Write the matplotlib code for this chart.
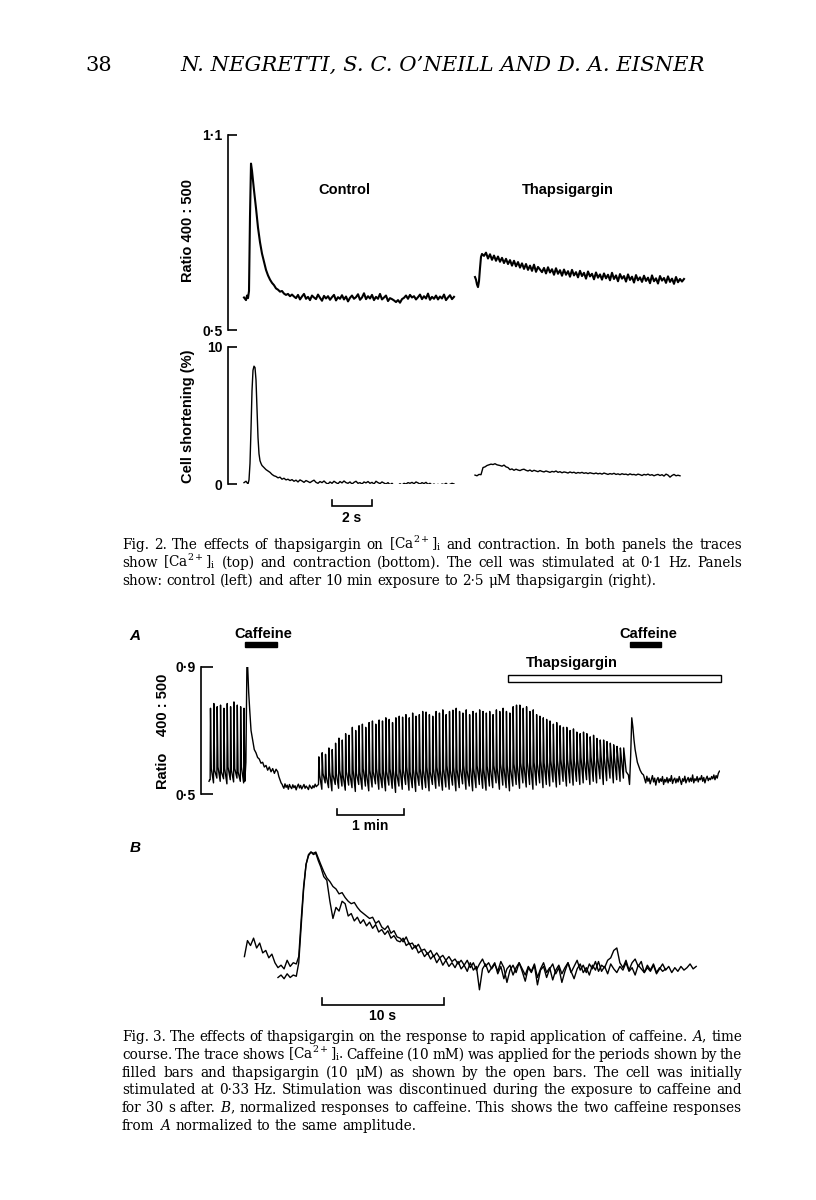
import numpy as np
import matplotlib
matplotlib.use("Agg")
import matplotlib.pyplot as plt
from matplotlib.patches import Rectangle

# ---------------- data ----------------
# Fig. 2, top: ratio 400:500, control transient (time in s)
ctrl_ratio_t = [0.0, 0.1, 0.15, 0.2, 0.25, 0.3, 0.35, 0.4, 0.5, 0.6, 0.7, 0.8, 0.9, 1.0,
                1.1, 1.2, 1.3, 1.4, 1.5, 1.6, 1.7, 1.8, 1.9, 2.0, 2.1, 2.2, 2.3, 2.4, 2.5]
ctrl_ratio_y = [0.600, 0.592, 0.606, 0.598, 0.62, 0.85, 1.012, 0.99, 0.93, 0.875, 0.815,
                0.77, 0.735, 0.71, 0.685, 0.668, 0.655, 0.645, 0.638, 0.628, 0.624, 0.618,
                0.62, 0.612, 0.608, 0.611, 0.604, 0.609, 0.603]
# resting part, sampled every 0.1 s from 2.6 s
ctrl_ratio_rest = [
    0.598, 0.608, 0.594, 0.603, 0.611, 0.596, 0.602, 0.592, 0.606, 0.600,
    0.595, 0.609, 0.599, 0.590, 0.605, 0.597, 0.604, 0.593, 0.601, 0.608,
    0.591, 0.601, 0.596, 0.607, 0.594, 0.603, 0.588, 0.599, 0.606, 0.596,
    0.601, 0.610, 0.593, 0.600, 0.613, 0.595, 0.604, 0.597, 0.608, 0.592,
    0.602, 0.596, 0.611, 0.594, 0.600, 0.606, 0.589, 0.598, 0.595, 0.591,
    0.586, 0.592, 0.584, 0.595, 0.599, 0.606, 0.596, 0.608, 0.600, 0.604,
    0.594, 0.601, 0.609, 0.595, 0.604, 0.597, 0.612, 0.593, 0.602, 0.596,
    0.606, 0.594, 0.603, 0.597, 0.609, 0.592, 0.600, 0.607, 0.595, 0.602]

# thapsigargin transient
thap_ratio_t = [11.55, 11.6, 11.65, 11.7, 11.75, 11.8, 11.85, 11.9]
thap_ratio_y = [0.663, 0.655, 0.64, 0.632, 0.65, 0.69, 0.725, 0.734]
# sampled every 0.1 s from 12.0 s
thap_ratio_rest = [
    0.728, 0.738, 0.720, 0.733, 0.716, 0.729, 0.713, 0.726, 0.710, 0.722,
    0.706, 0.719, 0.703, 0.715, 0.698, 0.713, 0.696, 0.709, 0.692, 0.705,
    0.688, 0.703, 0.685, 0.698, 0.682, 0.701, 0.679, 0.694, 0.686, 0.678,
    0.691, 0.674, 0.693, 0.677, 0.687, 0.670, 0.690, 0.673, 0.684, 0.667,
    0.686, 0.670, 0.681, 0.664, 0.685, 0.668, 0.678, 0.662, 0.682, 0.666,
    0.676, 0.658, 0.680, 0.665, 0.673, 0.656, 0.677, 0.661, 0.671, 0.655,
    0.674, 0.659, 0.670, 0.653, 0.676, 0.657, 0.668, 0.650, 0.672, 0.658,
    0.666, 0.649, 0.671, 0.654, 0.664, 0.646, 0.669, 0.653, 0.662, 0.648,
    0.667, 0.651, 0.661, 0.644, 0.668, 0.650, 0.659, 0.643, 0.666, 0.652,
    0.660, 0.645, 0.665, 0.648, 0.658, 0.642, 0.663, 0.647, 0.657, 0.649,
    0.657]

# Fig. 2, bottom: cell shortening (%)
ctrl_short_t = [0.0, 0.1, 0.2, 0.25, 0.3, 0.35, 0.4, 0.45, 0.5, 0.55, 0.6, 0.65, 0.7,
                0.75, 0.8, 0.85, 0.9, 1.0, 1.1, 1.2, 1.3, 1.4, 1.5, 1.6, 1.7, 1.8, 1.9,
                2.0, 2.1, 2.2]
ctrl_short_y = [0.1, 0.2, 0.0, 0.3, 1.5, 4.0, 6.8, 8.3, 8.6, 8.5, 7.6, 5.5, 3.4, 2.2,
                1.7, 1.5, 1.35, 1.2, 1.05, 0.95, 0.85, 0.7, 0.6, 0.55, 0.45, 0.5, 0.35,
                0.42, 0.3, 0.35]
# every 0.1 s from 2.3 s
ctrl_short_rest = [
    0.25, 0.32, 0.2, 0.28, 0.15, 0.3, 0.22, 0.12, 0.25, 0.18,
    0.1, 0.2, 0.28, 0.12, 0.05, 0.18, 0.1, 0.22, 0.08, 0.0,
    0.15, 0.05, 0.2, 0.1, 0.02, 0.18, 0.08, 0.22, 0.1, 0.05,
    0.15, 0.0, 0.12, 0.2, 0.05, 0.1, 0.0, 0.15, 0.08, 0.18,
    0.05, 0.12, 0.0, 0.2, 0.1, 0.03, 0.15, 0.07, 0.0, 0.1,
    -0.05, 0.05, -0.12, -0.05, -0.1, 0.02, -0.08, 0.05, 0.0, 0.1,
    0.05, 0.12, 0.02, 0.15, 0.08, 0.0, 0.1, 0.03, 0.12, -0.02,
    0.05, -0.08, 0.0, -0.1, -0.02, -0.12, 0.0, -0.05, 0.05, -0.08,
    -0.02, 0.05, 0.0]

thap_short_t = [11.55, 11.65, 11.75, 11.85, 11.95, 12.05, 12.15, 12.25, 12.35, 12.45,
                12.55, 12.65]
thap_short_y = [0.65, 0.6, 0.7, 0.68, 1.2, 1.25, 1.35, 1.4, 1.45, 1.42, 1.48, 1.4]
# every 0.1 s from 12.8 s
thap_short_rest = [
    1.35, 1.3, 1.38, 1.25, 1.2, 1.05, 1.1, 1.0, 1.08, 1.02,
    0.98, 1.05, 1.08, 1.0, 0.95, 1.02, 0.92, 1.0, 0.95, 0.9,
    0.98, 0.92, 0.88, 0.95, 0.9, 0.85, 0.92, 0.88, 0.95, 0.85,
    0.9, 0.82, 0.88, 0.85, 0.8, 0.88, 0.82, 0.86, 0.78, 0.84,
    0.8, 0.85, 0.78, 0.82, 0.76, 0.82, 0.78, 0.75, 0.8, 0.74,
    0.78, 0.72, 0.8, 0.75, 0.7, 0.76, 0.72, 0.78, 0.7, 0.74,
    0.68, 0.75, 0.7, 0.72, 0.66, 0.74, 0.68, 0.7, 0.65, 0.72,
    0.68, 0.62, 0.7, 0.66, 0.72, 0.64, 0.68, 0.6, 0.66, 0.7,
    0.62, 0.68, 0.58, 0.72, 0.65, 0.5, 0.62, 0.7, 0.6, 0.64,
    0.6]

# Fig. 3A: time course (s), stimulated at 0.33 Hz
beat_period = 3.0
group1_start = 1.0
group1_peaks = [0.77, 0.785, 0.775, 0.78, 0.77, 0.785, 0.775, 0.79, 0.78, 0.775, 0.77]
group1_troughs = [0.545, 0.535, 0.55, 0.54, 0.548, 0.532, 0.545, 0.538, 0.55, 0.54, 0.535]
group1_shoulders = [0.58, 0.575, 0.585, 0.57, 0.58, 0.585, 0.575, 0.58, 0.57, 0.585, 0.575]

caff1_t = [32.0, 33.0, 34.0, 34.6, 35.5, 36.5, 37.6, 39.0, 40.5, 42.0, 43.5, 45.0, 46.5,
           48.0, 49.5, 51.0, 52.5, 54.0, 55.5, 57.0, 58.5, 60.0, 61.5, 62.5, 63.5, 64.5,
           65.5]
caff1_y = [0.54, 0.6, 0.94, 0.90, 0.82, 0.76, 0.70, 0.67, 0.64, 0.63, 0.615, 0.61, 0.597,
           0.6, 0.585, 0.59, 0.575, 0.585, 0.57, 0.58, 0.565, 0.578, 0.57, 0.555, 0.545,
           0.535, 0.53]
# every 1 s from 66 s (no stimulation)
rest1_y = [0.525, 0.518, 0.532, 0.521, 0.528, 0.515, 0.53, 0.522, 0.517, 0.529, 0.52,
           0.526, 0.513, 0.524, 0.531, 0.519, 0.527, 0.516, 0.523, 0.53, 0.518, 0.525,
           0.52, 0.514, 0.528, 0.522, 0.517, 0.526, 0.52, 0.531, 0.523, 0.527]

group2_start = 98.0
group2_peaks = [
    0.617, 0.63, 0.625, 0.645, 0.64, 0.66,
    0.676, 0.67, 0.69, 0.685, 0.71,
    0.70, 0.715, 0.72, 0.71, 0.725, 0.73, 0.72, 0.733,
    0.73, 0.74, 0.735, 0.725, 0.74, 0.745, 0.742,
    0.75, 0.74, 0.755, 0.745, 0.75, 0.76, 0.758,
    0.75, 0.745, 0.76, 0.755, 0.765, 0.75, 0.76, 0.764,
    0.77, 0.76, 0.755, 0.765, 0.75, 0.76, 0.755, 0.765, 0.76, 0.755,
    0.76, 0.75, 0.765, 0.76, 0.77, 0.76, 0.755, 0.775, 0.78, 0.78,
    0.77, 0.775, 0.76, 0.765, 0.75, 0.745, 0.74, 0.735,
    0.73, 0.72, 0.725, 0.715, 0.71, 0.71,
    0.70, 0.705, 0.695, 0.69, 0.695, 0.69,
    0.68, 0.685, 0.675, 0.67, 0.67, 0.665,
    0.66, 0.655, 0.65, 0.645, 0.645]
group2_troughs = [
    0.53, 0.515, 0.535, 0.52, 0.51, 0.53, 0.518, 0.525, 0.512, 0.528,
    0.52, 0.508, 0.53, 0.515, 0.525, 0.51, 0.522, 0.532, 0.515, 0.52,
    0.51, 0.528, 0.518, 0.505, 0.525, 0.515, 0.53, 0.512, 0.52, 0.508,
    0.527, 0.515, 0.52, 0.51, 0.53, 0.518, 0.525, 0.512, 0.522, 0.515,
    0.528, 0.51, 0.52, 0.532, 0.515, 0.525, 0.51, 0.52, 0.53, 0.518,
    0.512, 0.525, 0.52, 0.535, 0.515, 0.528, 0.52, 0.51, 0.525, 0.53,
    0.518, 0.535, 0.522, 0.53, 0.515, 0.528, 0.535, 0.52, 0.53, 0.525,
    0.538, 0.522, 0.53, 0.54, 0.525, 0.535, 0.528, 0.54, 0.53, 0.535,
    0.545, 0.53, 0.54, 0.535, 0.548, 0.53, 0.542, 0.55, 0.535, 0.545,
    0.54, 0.55]
group2_shoulders = [
    0.56, 0.565, 0.555, 0.57, 0.56, 0.565, 0.575, 0.56, 0.57, 0.565,
    0.575, 0.565, 0.57, 0.58, 0.565, 0.575, 0.57, 0.58, 0.568, 0.575,
    0.57, 0.58, 0.575, 0.565, 0.58, 0.575, 0.585, 0.57, 0.578, 0.572,
    0.58, 0.575, 0.585, 0.57, 0.58, 0.585, 0.575, 0.58, 0.59, 0.575,
    0.585, 0.578, 0.58, 0.59, 0.575, 0.585, 0.58, 0.59, 0.583, 0.578,
    0.588, 0.58, 0.59, 0.582, 0.595, 0.585, 0.59, 0.58, 0.595, 0.59,
    0.598, 0.59, 0.6, 0.592, 0.6, 0.595, 0.605, 0.598, 0.6, 0.605,
    0.598, 0.605, 0.61, 0.6, 0.608, 0.612, 0.605, 0.61, 0.615, 0.605,
    0.612, 0.618, 0.608, 0.615, 0.62, 0.612, 0.618, 0.622, 0.615, 0.62,
    0.618, 0.622]

caff2_t = [373.5, 375.5, 376.5, 377.5, 378.5, 379.5, 380.5, 381.5, 382.5, 383.5, 384.5,
           386.0, 387.5, 389.0]
caff2_y = [0.57, 0.56, 0.53, 0.62, 0.74, 0.71, 0.67, 0.64, 0.62, 0.60, 0.59, 0.575,
           0.565, 0.56]
# every 1 s from 390 s
rest2_y = [
    0.548, 0.535, 0.556, 0.54, 0.55, 0.532, 0.545, 0.558, 0.538, 0.55,
    0.528, 0.545, 0.552, 0.536, 0.548, 0.54, 0.555, 0.53, 0.546, 0.538,
    0.552, 0.535, 0.548, 0.54, 0.558, 0.533, 0.545, 0.55, 0.535, 0.548,
    0.538, 0.555, 0.542, 0.53, 0.548, 0.54, 0.556, 0.535, 0.545, 0.552,
    0.538, 0.55, 0.54, 0.56, 0.535, 0.548, 0.542, 0.555, 0.538, 0.55,
    0.545, 0.558, 0.54, 0.552, 0.535, 0.548, 0.556, 0.542, 0.55, 0.545,
    0.555, 0.548, 0.56, 0.545, 0.558, 0.55, 0.565, 0.572]

caffeine_periods = [(32.0, 61.0), (377.0, 405.0)]
thapsigargin_period = (268.0, 458.0)

# Fig. 3B: normalized caffeine responses (s, fraction of peak)
resp1_pre = [-0.02, 0.0, -0.03, 0.01, -0.02, 0.0, -0.01]          # from 0 s, 0.25 s steps
resp2_pre = [0.15, 0.28, 0.24, 0.3, 0.22, 0.26, 0.18, 0.2, 0.14, 0.17, 0.1, 0.06, 0.08,
             0.05, 0.12, 0.07, 0.1, 0.09]                          # from -2.75 s
rise_t = [1.7, 1.9, 2.1, 2.3, 2.5, 2.7, 2.9, 3.1, 3.3, 3.5]
resp1_rise = [0.1, 0.4, 0.7, 0.9, 0.97, 1.0, 0.99, 1.0, 0.95, 0.9]
resp2_rise = [0.15, 0.45, 0.72, 0.9, 0.98, 1.0, 0.98, 0.99, 0.93, 0.88]
resp1_decay = [0.84, 0.79, 0.76, 0.72, 0.70, 0.66, 0.67, 0.63, 0.60, 0.58,
               0.59, 0.55, 0.52, 0.5, 0.48, 0.46, 0.47, 0.42, 0.44, 0.39,
               0.37, 0.4, 0.34, 0.36, 0.31, 0.3, 0.27, 0.31, 0.25, 0.26,
               0.22, 0.25, 0.2, 0.21, 0.17, 0.2, 0.15, 0.18, 0.14, 0.16,
               0.12, 0.15, 0.11, 0.13, 0.09, 0.12]                 # from 3.75 s
resp2_decay = [0.8, 0.77, 0.6, 0.46, 0.55, 0.52, 0.6, 0.58, 0.48, 0.5,
               0.44, 0.47, 0.42, 0.45, 0.4, 0.43, 0.38, 0.41, 0.35, 0.37,
               0.33, 0.36, 0.3, 0.32, 0.28, 0.27, 0.3, 0.24, 0.26, 0.21,
               0.24, 0.18, 0.2, 0.15, 0.18, 0.13, 0.16, 0.1, 0.14, 0.08,
               0.12, 0.07, 0.1, 0.06, 0.11, 0.05]
resp1_tail = [0.08, 0.12, 0.06, 0.1, 0.04, 0.09, 0.13, 0.07, 0.1, 0.05,
              0.09, 0.03, 0.11, 0.06, -0.06, 0.04, 0.08, 0.02, 0.1, 0.05,
              0.0, 0.07, 0.03, 0.09, -0.02, 0.05, 0.1, 0.02, 0.06, -0.04,
              0.04, 0.08, 0.01, 0.06, 0.1, 0.03, -0.03, 0.05, 0.09, 0.02,
              0.06, 0.0, 0.08, 0.04, 0.11, 0.03, 0.07, 0.01, 0.09, 0.05,
              0.02, 0.07, 0.04, 0.1, 0.03, 0.06, 0.0, 0.08, 0.05, 0.02,
              0.06, 0.03, 0.08, 0.01, 0.05, 0.09, 0.04, 0.07, 0.02, 0.06,
              0.03, 0.07, 0.04, 0.06, 0.09, 0.05, 0.07]            # from 15.25 s
resp2_tail = [0.08, 0.03, 0.1, 0.04, 0.07, -0.12, 0.05, 0.09, 0.02, 0.06,
              0.1, 0.01, 0.07, -0.03, 0.05, 0.08, 0.0, 0.06, 0.1, 0.03,
              -0.05, 0.06, 0.02, 0.08, -0.08, 0.04, 0.07, -0.02, 0.05, 0.09,
              0.01, 0.06, -0.06, 0.03, 0.1, 0.02, 0.07, 0.12, 0.04, 0.08,
              0.02, 0.09, 0.05, 0.11, 0.03, 0.08, 0.06, 0.12, 0.14, 0.2,
              0.22, 0.1, 0.06, 0.12, 0.04, 0.1, 0.13, 0.07, 0.11, 0.02,
              0.08, 0.04, 0.09, 0.02, 0.06, 0.03, 0.05]

CA = "[Ca$^{2+}$]$_\\mathrm{i}$"
caption2 = [
    "Fig. 2. The effects of thapsigargin on " + CA + " and contraction. In both panels the traces",
    "show " + CA + " (top) and contraction (bottom). The cell was stimulated at 0·1 Hz. Panels",
    "show: control (left) and after 10 min exposure to 2·5 μM thapsigargin (right).",
]
caption3 = [
    "Fig. 3. The effects of thapsigargin on the response to rapid application of caffeine. $\\it{A}$, time",
    "course. The trace shows " + CA + ". Caffeine (10 mM) was applied for the periods shown by the",
    "filled bars and thapsigargin (10 μM) as shown by the open bars. The cell was initially",
    "stimulated at 0·33 Hz. Stimulation was discontinued during the exposure to caffeine and",
    "for 30 s after. $\\it{B}$, normalized responses to caffeine. This shows the two caffeine responses",
    "from $\\it{A}$ normalized to the same amplitude.",
]

# ---------------- drawing ----------------
W, H = 816, 1200
SANS = "Liberation Sans"
SERIF = "DejaVu Serif"
plt.rcParams["mathtext.fontset"] = "dejavuserif"

fig = plt.figure(figsize=(W / 100, H / 100), dpi=100)
fig.patch.set_facecolor("white")


def fx(x):
    return x / W


def fy(y):
    return 1 - y / H


def px_axes(left, top, right, bottom):
    return fig.add_axes([left / W, 1 - bottom / H, (right - left) / W, (bottom - top) / H])


def trace_axes(ax, xlim, ylim, ticks, labels, tick_len):
    ax.set_xlim(*xlim)
    ax.set_ylim(*ylim)
    for s in ["top", "right", "bottom"]:
        ax.spines[s].set_visible(False)
    ax.spines["left"].set_linewidth(1.2)
    ax.set_xticks([])
    ax.set_yticks(ticks)
    ax.set_yticklabels(labels, fontfamily=SANS, fontweight="bold", fontsize=10)
    ax.tick_params(axis="y", direction="in", length=tick_len, width=1.2, pad=4)
    ax.patch.set_visible(False)


def scale_bar(ax, t0, t1, y, tick, label, label_y):
    ax.plot([t0, t0, t1, t1], [y + tick, y, y, y + tick], color="black", lw=1.2,
            clip_on=False, solid_joinstyle="miter")
    ax.text((t0 + t1) / 2, label_y, label, ha="center", va="center",
            fontfamily=SANS, fontweight="bold", fontsize=10)


def sampled(start, step, values):
    return start + step * np.arange(len(values)), np.asarray(values)


def beats(start, peaks, troughs, shoulders):
    t, y = [], []
    for i, (pk, tr, sh) in enumerate(zip(peaks, troughs, shoulders)):
        tb = start + i * beat_period
        t += [tb, tb + 0.3, tb + 1.0]
        y += [tr, pk, sh]
    return t, y


# header
fig.text(fx(85), fy(71), "38", fontsize=15, family=SERIF, va="baseline")
fig.text(fx(443), fy(71), "N. NEGRETTI, S. C. O’NEILL AND D. A. EISNER", fontsize=15.2,
         family=SERIF, style="italic", va="baseline", ha="center")

# ---- Fig. 2 top
ax1 = px_axes(228, 135, 690, 330)
trace_axes(ax1, (-0.8, 22.3), (0.5, 1.1), [0.5, 1.1], ["0·5", "1·1"], 6.5)
t_rest, y_rest = sampled(2.6, 0.1, ctrl_ratio_rest)
ax1.plot(np.r_[ctrl_ratio_t, t_rest], np.r_[ctrl_ratio_y, y_rest], color="black", lw=1.5)
t_rest, y_rest = sampled(12.0, 0.1, thap_ratio_rest)
ax1.plot(np.r_[thap_ratio_t, t_rest], np.r_[thap_ratio_y, y_rest], color="black", lw=1.5)
ax1.text(5.0, 0.93, "Control", ha="center", va="center", fontfamily=SANS,
         fontweight="bold", fontsize=10.5)
ax1.text(16.2, 0.93, "Thapsigargin", ha="center", va="center", fontfamily=SANS,
         fontweight="bold", fontsize=10.5)
fig.text(fx(188), fy(230), "Ratio 400 : 500", rotation=90, ha="center", va="center",
         fontfamily=SANS, fontweight="bold", fontsize=10.5)

# ---- Fig. 2 bottom
ax2 = px_axes(228, 347, 690, 484)
trace_axes(ax2, (-0.8, 22.3), (0, 10), [0, 10], ["0", "10"], 6.5)
t_rest, y_rest = sampled(2.3, 0.1, ctrl_short_rest)
ax2.plot(np.r_[ctrl_short_t, t_rest], np.r_[ctrl_short_y, y_rest], color="black", lw=1.0)
t_rest, y_rest = sampled(12.8, 0.1, thap_short_rest)
ax2.plot(np.r_[thap_short_t, t_rest], np.r_[thap_short_y, y_rest], color="black", lw=1.0)
scale_bar(ax2, 4.4, 6.4, -1.62, 0.45, "2 s", -2.45)
fig.text(fx(188), fy(416), "Cell shortening (%)", rotation=90, ha="center", va="center",
         fontfamily=SANS, fontweight="bold", fontsize=10.5)

# captions (justified word by word)
renderer = fig.canvas.get_renderer()


def caption(lines, y0, x0=122, x1=742, size=9.8, lead=17.8):
    for k, line in enumerate(lines):
        words = line.split(" ")
        arts = [fig.text(0, fy(y0 + k * lead), w, fontsize=size, family=SERIF,
                         va="baseline") for w in words]
        widths = [a.get_window_extent(renderer).width for a in arts]
        last = k == len(lines) - 1
        gap = size * 100 / 72 * 0.32 if last else (x1 - x0 - sum(widths)) / (len(words) - 1)
        x = x0
        for a, w in zip(arts, widths):
            a.set_x(fx(x))
            x += w + gap


caption(caption2, 549)
caption(caption3, 1041)

# ---- Fig. 3A
ax3 = px_axes(201, 667, 720, 794)
trace_axes(ax3, (-7.2, 457.5), (0.5, 0.9), [0.5, 0.9], ["0·5", "0·9"], 8.5)
tt, yy = [0.0, 0.5], [0.54, 0.545]
bt, by = beats(group1_start, group1_peaks, group1_troughs, group1_shoulders)
tt += bt + caff1_t
yy += by + caff1_y
rt, ry = sampled(66.0, 1.0, rest1_y)
tt += list(rt)
yy += list(ry)
bt, by = beats(group2_start, group2_peaks, group2_troughs, group2_shoulders)
tt += bt + caff2_t
yy += by + caff2_y
rt, ry = sampled(390.0, 1.0, rest2_y)
tt += list(rt)
yy += list(ry)
ax3.plot(tt, yy, color="black", lw=1.0)

for (c0, c1) in caffeine_periods:
    ax3.add_patch(Rectangle((c0, 0.963), c1 - c0, 0.017, facecolor="black",
                            edgecolor="black", clip_on=False))
    ax3.text((c0 + c1) / 2 + 2, 1.004, "Caffeine", ha="center", va="center",
             fontfamily=SANS, fontweight="bold", fontsize=10.5)
ax3.add_patch(Rectangle((thapsigargin_period[0], 0.853),
                        thapsigargin_period[1] - thapsigargin_period[0], 0.022,
                        facecolor="white", edgecolor="black", lw=1.0, clip_on=False))
ax3.text(325, 0.913, "Thapsigargin", ha="center", va="center", fontfamily=SANS,
         fontweight="bold", fontsize=10.5)
scale_bar(ax3, 114.6, 174.6, 0.434, 0.018, "1 min", 0.398)
fig.text(fx(135), fy(636), "A", fontsize=11, family=SANS, style="italic",
         fontweight="bold", ha="center", va="center")
fig.text(fx(163), fy(731), "Ratio    400 : 500", rotation=90, ha="center", va="center",
         fontfamily=SANS, fontweight="bold", fontsize=10.5)

# ---- Fig. 3B
ax4 = px_axes(230, 840, 720, 1000)
ax4.set_xlim(-3.93, 36.2)
ax4.set_ylim(-0.203, 1.098)
ax4.axis("off")
t_pre, y_pre = sampled(0.0, 0.25, resp1_pre)
t_dec, y_dec = sampled(3.75, 0.25, resp1_decay)
t_tail, y_tail = sampled(15.25, 0.25, resp1_tail)
ax4.plot(np.r_[t_pre, rise_t, t_dec, t_tail], np.r_[y_pre, resp1_rise, y_dec, y_tail],
         color="black", lw=1.0)
t_pre, y_pre = sampled(-2.75, 0.25, resp2_pre)
t_dec, y_dec = sampled(3.75, 0.25, resp2_decay)
t_tail, y_tail = sampled(15.25, 0.25, resp2_tail)
ax4.plot(np.r_[t_pre, rise_t, t_dec, t_tail], np.r_[y_pre, resp2_rise, y_dec, y_tail],
         color="black", lw=1.0)
scale_bar(ax4, 3.6, 13.6, -0.244, 0.06, "10 s", -0.335)
fig.text(fx(135), fy(848), "B", fontsize=11, family=SANS, style="italic",
         fontweight="bold", ha="center", va="center")

fig.savefig("out.png", dpi=100, facecolor="white")
